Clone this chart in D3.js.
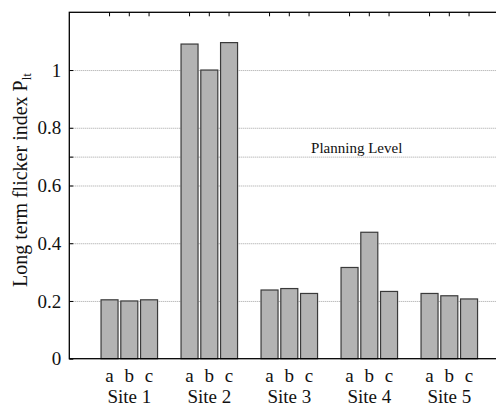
<!DOCTYPE html>
<html lang="en">
<head>
  <meta charset="UTF-8" />
  <title>Long term flicker index by site</title>
  <style>
    body {
      margin: 0;
      background: white;
      overflow: hidden;
    }
    svg {
      display: block;
    }
  </style>
</head>
<body>
<svg id="chart"></svg>
<script src="https://d3js.org/d3.v7.min.js"></script>
<script>
const width = 496;
const height = 404;
const serif = "'Liberation Serif', 'Times New Roman', Times, 'DejaVu Serif', serif";

// data
const sites = ["Site 1", "Site 2", "Site 3", "Site 4", "Site 5"];
const phases = ["a", "b", "c"];
const pltA = [0.204, 1.090, 0.238, 0.316, 0.226];
const pltB = [0.200, 1.000, 0.243, 0.438, 0.218];
const pltC = [0.204, 1.095, 0.226, 0.233, 0.207];
const yTicks = [0, 0.2, 0.4, 0.6, 0.7, 0.8, 1];
const yLabels = ["0", "0.2", "0.4", "0.6", "", "0.8", "1"];
const planningLevel = 0.7;

const series = [pltA, pltB, pltC];
const bars = [];
sites.forEach((s, i) => {
  phases.forEach((p, j) => {
    bars.push({ site: i + 1, phase: p, off: (j - 1) * 0.247, value: series[j][i] });
  });
});

const plot = { left: 69.3, top: 12.3, right: 509.3, bottom: 358.7 };

const svg = d3.select("#chart")
  .attr("width", width)
  .attr("height", height)
  .style("font-family", serif);

const x = d3.scaleLinear().domain([0.25, 5.75]).range([plot.left, plot.right]);
const y = d3.scaleLinear().domain([0, 1.2]).range([plot.bottom, plot.top]);
const barW = 17;

// grid lines (dotted)
svg.append("g")
  .selectAll("line")
  .data(yTicks.filter(t => t > 0))
  .join("line")
  .attr("x1", plot.left)
  .attr("x2", plot.right)
  .attr("y1", d => y(d) + 0.5)
  .attr("y2", d => y(d) + 0.5)
  .attr("stroke", "#8a8a8a")
  .attr("stroke-width", 0.8)
  .attr("stroke-dasharray", "1,1");

svg.append("text")
  .attr("x", 356.7)
  .attr("y", y(planningLevel) - 4)
  .attr("text-anchor", "middle")
  .attr("font-size", 15)
  .style("font-family", serif)
  .attr("fill", "#111")
  .text("Planning Level");

// bars
svg.append("g")
  .selectAll("rect")
  .data(bars)
  .join("rect")
  .attr("x", d => x(d.site + d.off) - barW / 2)
  .attr("y", d => y(d.value))
  .attr("width", barW)
  .attr("height", d => y(0) - y(d.value))
  .attr("fill", "#b3b3b3")
  .attr("stroke", "#3a3a3a")
  .attr("stroke-width", 1.2);

// frame
svg.append("rect")
  .attr("x", plot.left)
  .attr("y", plot.top)
  .attr("width", plot.right - plot.left)
  .attr("height", plot.bottom - plot.top)
  .attr("fill", "none")
  .attr("stroke", "#000")
  .attr("stroke-width", 1.3);

// left axis, ticks inward
const yAxis = d3.axisLeft(y)
  .tickValues(yTicks)
  .tickFormat((d, i) => yLabels[i])
  .tickSizeInner(-4)
  .tickSizeOuter(0)
  .tickPadding(8);

const gy = svg.append("g")
  .attr("transform", `translate(${plot.left},0)`)
  .call(yAxis)
  .attr("font-family", null)
  .attr("font-size", null);
gy.select(".domain").remove();
gy.selectAll(".tick line").attr("stroke", "#000");
gy.selectAll(".tick text")
  .attr("font-size", 19)
  .style("font-family", serif)
  .attr("fill", "#111");

// top ticks at bar centres
svg.append("g")
  .selectAll("line")
  .data(bars)
  .join("line")
  .attr("x1", d => x(d.site + d.off))
  .attr("x2", d => x(d.site + d.off))
  .attr("y1", plot.top)
  .attr("y2", plot.top + 4)
  .attr("stroke", "#000");

// phase labels
svg.append("g")
  .selectAll("text")
  .data(bars)
  .join("text")
  .attr("x", d => x(d.site + d.off))
  .attr("y", 382)
  .attr("text-anchor", "middle")
  .attr("font-size", 19)
  .style("font-family", serif)
  .attr("fill", "#111")
  .text(d => d.phase);

// site labels
svg.append("g")
  .selectAll("text")
  .data(sites)
  .join("text")
  .attr("x", (d, i) => x(i + 1))
  .attr("y", 403)
  .attr("text-anchor", "middle")
  .attr("font-size", 19)
  .style("font-family", serif)
  .attr("fill", "#111")
  .text(d => d);

// y axis title
const title = svg.append("text")
  .attr("transform", "translate(26.5,180) rotate(-90)")
  .attr("text-anchor", "middle")
  .attr("font-size", 20)
  .style("font-family", serif)
  .attr("fill", "#111");
title.append("tspan").text("Long term flicker index P");
title.append("tspan").attr("font-size", 13).attr("dy", 4).text("lt");
</script>
</body>
</html>
